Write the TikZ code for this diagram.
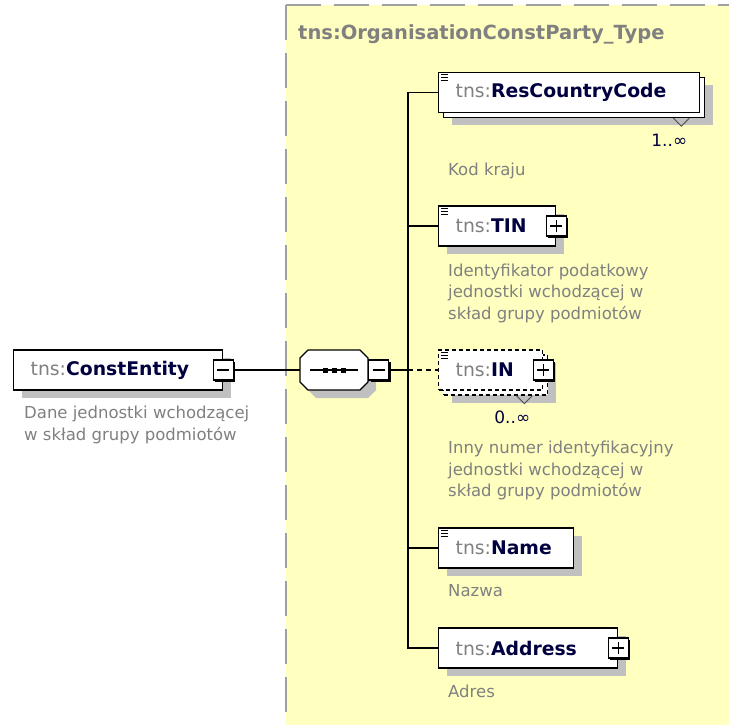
\documentclass[tikz,border=0pt]{standalone}
\usepackage{fontspec}
\setmainfont{DejaVu Sans}
\usetikzlibrary{positioning, shadows}

\definecolor{schemaYellow}{RGB}{255,255,192}
\definecolor{schemaGray}{RGB}{128,128,128}
\definecolor{schemaNavy}{RGB}{0,0,64}
\definecolor{schemaShadow}{RGB}{192,192,192}
\definecolor{schemaDash}{RGB}{160,160,160}

\newcommand{\tnsname}[1]{\mbox{\color{schemaGray}tns:\color{schemaNavy}\bfseries #1}}
\newcommand{\docicon}[1]{\foreach \k in {0,1,2} \draw[line width=0.9pt] ([shift={(3,3+3*\k)}]#1.north west) -- ++(7,0);}
\newcommand{\manynotch}[1]{\draw[line width=0.9pt, black!70] ([xshift=-32pt]#1.south east) -- ++(8,8) -- ++(8,-8);}

\tikzset{
    elbase/.style={draw, line width=1.3pt, fill=white, anchor=west, minimum height=40pt,
        inner xsep=17pt, inner ysep=0pt, align=left, font=\fontsize{18.8}{22}\selectfont},
    elbox/.style={elbase, drop shadow={shadow xshift=8pt, shadow yshift=-8pt, fill=schemaShadow, opacity=1}},
    optional/.style={dash pattern=on 4pt off 3pt},
    pmsq/.style={draw, line width=1.3pt, fill=white, minimum size=20pt, inner sep=0pt,
        drop shadow={shadow xshift=2pt, shadow yshift=-2pt, fill=black, opacity=1}},
    minussq/.style={pmsq, path picture={
        \draw[line width=1.3pt] ([xshift=4pt]path picture bounding box.west) -- ([xshift=-4pt]path picture bounding box.east);}},
    plussq/.style={pmsq, path picture={
        \draw[line width=1.3pt] ([xshift=4pt]path picture bounding box.west) -- ([xshift=-4pt]path picture bounding box.east);
        \draw[line width=1.3pt] ([yshift=4pt]path picture bounding box.south) -- ([yshift=-4pt]path picture bounding box.north);}},
    seqarea/.style={minimum width=68pt, minimum height=40pt, inner sep=0pt, outer sep=0pt},
    seqshape/.style={draw, line width=1.3pt, fill=white,
        drop shadow={shadow xshift=8pt, shadow yshift=-8pt, fill=schemaShadow, opacity=1}},
    conn/.style={line width=1.2pt},
    desc/.style={anchor=north west, inner sep=0pt, align=left, text=schemaGray, font=\fontsize{16.5}{21.5}\selectfont},
    mult/.style={inner sep=0pt, text=schemaNavy, font=\fontsize{17}{19}\selectfont},
    typeborder/.style={draw=schemaDash, line width=2pt, dash pattern=on 35pt off 13pt}
}

\begin{document}
\begin{tikzpicture}[x=1pt, y=-1pt]
    \useasboundingbox (0,0) rectangle (729,725);

    % complex type area
    \begin{scope}
        \clip (0,0) rectangle (729,725);
        \fill[schemaYellow] (286,5) rectangle (740,740);
        \draw[typeborder] (286,5) -- (740,5);
        \draw[typeborder] (286,5) -- (286,740);
    \end{scope}
    \node[anchor=west, inner sep=0pt, text=schemaGray, font=\fontsize{19.5}{21}\selectfont\bfseries] (typename) at (298,34) {tns:OrganisationConstParty\_Type};

    % root element
    \node[elbox, text width=175pt] (root) at (13,370) {\tnsname{ConstEntity}};
    \node[minussq] (rootsq) at (root.east) {};
    \node[desc] (rootdesc) at (24,406) {Dane jednostki wchodzącej\\w skład grupy podmiotów};

    % sequence
    \node[seqarea] (seq) at (334,370) {};
    \draw[seqshape] ([xshift=8pt]seq.north west) -- ([xshift=-8pt]seq.north east) -- ([yshift=-8pt]seq.north east)
        -- ([yshift=8pt]seq.south east) -- ([xshift=-8pt]seq.south east) -- ([xshift=8pt]seq.south west)
        -- ([yshift=8pt]seq.south west) -- ([yshift=-8pt]seq.north west) -- cycle;
    \draw[conn] ([xshift=-24pt]seq.center) -- ([xshift=24pt]seq.center);
    \foreach \dx in {-9,0,9}
        \fill ([xshift=\dx pt]seq.center) +(-2.5,-2.5) rectangle +(2.5,2.5);
    \node[minussq, right=0pt of seq] (seqsq) {};
    \coordinate (trunk) at (408,370);

    % children
    \node[elbox, text width=227pt] (rescodeback) at (443,97.5) {};
    \node[elbase, text width=227pt] (rescode) at (438,92.5) {\tnsname{ResCountryCode}};
    \docicon{rescode}
    \manynotch{rescodeback}
    \node[mult] (rescodemult) at ([shift={(-36,22)}]rescodeback.south east) {1..∞};
    \node[desc] (rescodedesc) at (448,163) {Kod kraju};

    \node[elbox, text width=83pt] (tin) at (438,226) {\tnsname{TIN}};
    \docicon{tin}
    \node[plussq] (tinsq) at (tin.east) {};
    \node[desc, below right=17pt and 10pt of tin.south west] (tindesc) {Identyfikator podatkowy\\jednostki wchodzącej w\\skład grupy podmiotów};

    \node[elbox, optional, text width=70pt] (innumback) at (443,375) {};
    \node[elbase, optional, text width=70pt] (innum) at (438,370) {\tnsname{IN}};
    \docicon{innum}
    \node[plussq] (innumsq) at (innum.east) {};
    \manynotch{innumback}
    \node[mult] (innummult) at ([shift={(-36,22)}]innumback.south east) {0..∞};
    \node[desc] (innumdesc) at (448,441) {Inny numer identyfikacyjny\\jednostki wchodzącej w\\skład grupy podmiotów};

    \node[elbox, text width=101pt] (name) at (438,548) {\tnsname{Name}};
    \docicon{name}
    \node[desc, below right=16pt and 10pt of name.south west] (namedesc) {Nazwa};

    \node[elbox, text width=145pt] (address) at (438,648) {\tnsname{Address}};
    \node[plussq] (addresssq) at (address.east) {};
    \node[desc, below right=16pt and 10pt of address.south west] (addressdesc) {Adres};

    % connectors
    \draw[conn] (rootsq.east) -- (seq.west);
    \draw[conn] (seqsq.east) -- (trunk);
    \draw[conn] (trunk) |- (rescode.west);
    \draw[conn] (trunk) |- (tin.west);
    \draw[conn, dash pattern=on 5pt off 4pt] (trunk) -- (innum.west);
    \draw[conn] (trunk) |- (name.west);
    \draw[conn] (trunk) |- (address.west);
\end{tikzpicture}
\end{document}
